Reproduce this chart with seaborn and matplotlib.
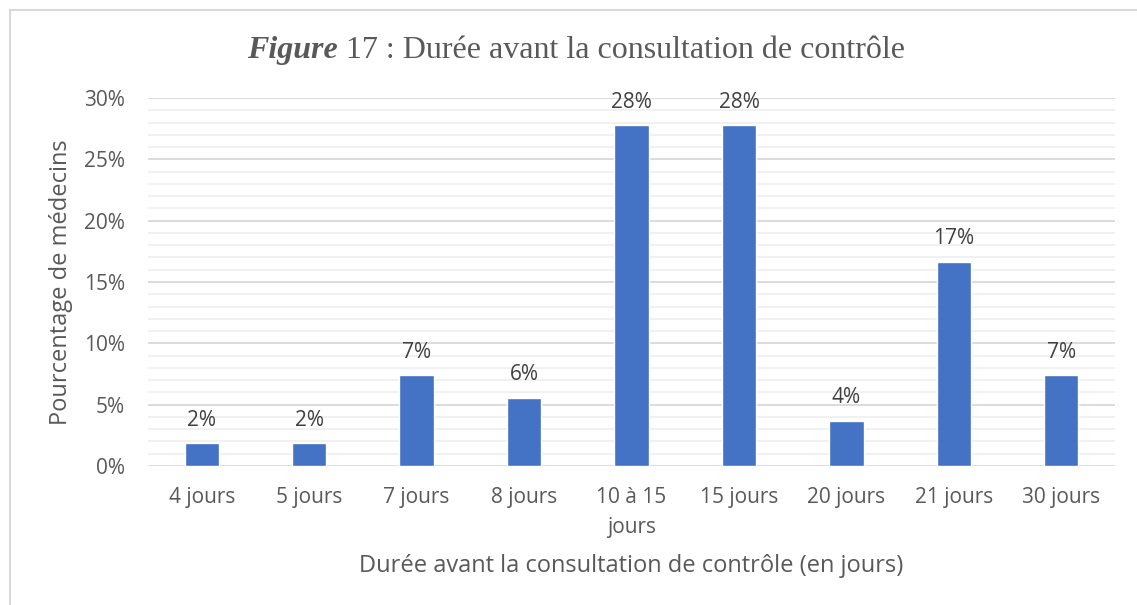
import matplotlib
matplotlib.use("Agg")
import matplotlib.pyplot as plt
import seaborn as sns
import pandas as pd
from matplotlib.patches import Rectangle
from matplotlib.ticker import MultipleLocator

categories = ["4 jours", "5 jours", "7 jours", "8 jours", "10 à 15\njours",
              "15 jours", "20 jours", "21 jours", "30 jours"]
values = [1.85, 1.85, 7.41, 5.56, 27.78, 27.78, 3.70, 16.67, 7.41]
value_labels = ["2%", "2%", "7%", "6%", "28%", "28%", "4%", "17%", "7%"]
y_ticks = [0, 5, 10, 15, 20, 25, 30]
y_tick_labels = ["0%", "5%", "10%", "15%", "20%", "25%", "30%"]

sns.set_theme(style="white")
plt.rcParams["font.family"] = ["Open Sans", "DejaVu Sans"]

W, H = 1137, 605
fig = plt.figure(figsize=(W / 100, H / 100), dpi=100)
fig.patch.set_facecolor("white")
ax = fig.add_axes([148 / W, 1 - 466 / H, (1115 - 148) / W, (466 - 98) / H])

df = pd.DataFrame({"cat": categories, "val": values})
sns.barplot(data=df, x="cat", y="val", color="#4472C4", width=0.32,
            saturation=1, ax=ax, zorder=3)

ax.set_xlim(-0.5, 8.5)
ax.set_ylim(0, 30)
ax.yaxis.set_major_locator(MultipleLocator(5))
ax.yaxis.set_minor_locator(MultipleLocator(1))
ax.set_yticks(y_ticks)
ax.set_yticklabels(y_tick_labels)
ax.grid(axis="y", which="major", color="#D9D9D9", lw=1.3, zorder=0)
ax.grid(axis="y", which="minor", color="#F0F0F0", lw=1.3, zorder=0)
ax.set_axisbelow(True)
for s in ax.spines.values():
    s.set_visible(False)
ax.tick_params(axis="both", which="both", length=0, labelsize=15,
               labelcolor="#595959")
ax.tick_params(axis="x", pad=15)
ax.tick_params(axis="y", pad=16.5)
for lbl in ax.get_xticklabels():
    lbl.set_linespacing(1.55)

for i, (v, t) in enumerate(zip(values, value_labels)):
    ax.annotate(t, xy=(i, v), xytext=(0, 9), textcoords="offset points",
                ha="center", va="bottom", fontsize=15, color="#404040")

ax.set_xlabel("Durée avant la consultation de contrôle (en jours)",
              fontsize=17, color="#595959", labelpad=12)
ax.set_ylabel("Pourcentage de médecins", fontsize=17, color="#595959")
ax.yaxis.set_label_coords((73 - 148) / (1115 - 148), 0.5)

# Title: "Figure" bold italic + regular remainder, Times-like serif
t1 = fig.text(247 / W, 1 - 65 / H, "Figure", fontsize=23,
              family="Liberation Serif", weight="bold", style="italic",
              color="#595959", ha="left", va="bottom")
ax.annotate(" 17 : Durée avant la consultation de contrôle",
            xy=(1, 0), xycoords=t1, ha="left", va="bottom",
            fontsize=23, family="Liberation Serif", color="#595959",
            annotation_clip=False)

# light frame
fig.patches.append(Rectangle((10 / W, -0.1), 1.2, 1 - 10 / H + 0.1,
                             transform=fig.transFigure, fill=False,
                             edgecolor="#D9D9D9", lw=1.5, zorder=0))

fig.savefig("out.png", dpi=100, facecolor="white")
